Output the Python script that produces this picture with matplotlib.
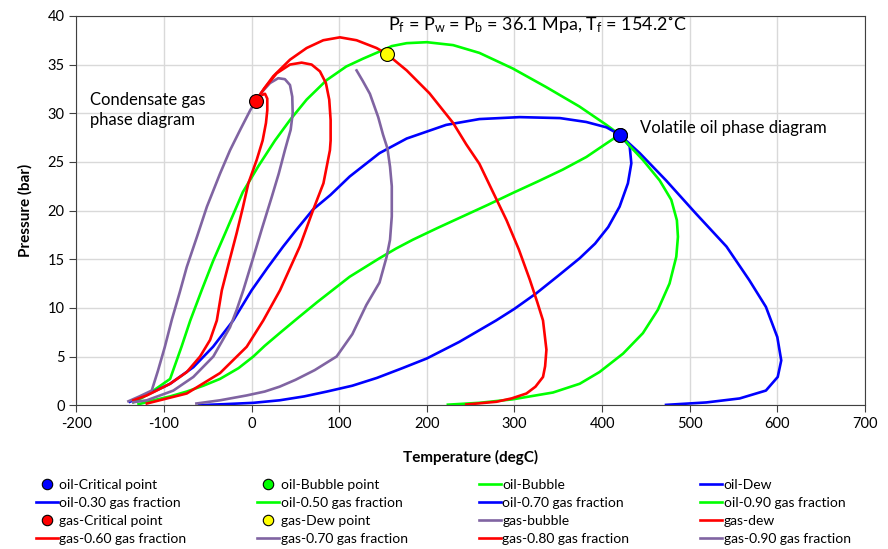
import matplotlib
matplotlib.use('Agg')
import matplotlib.pyplot as plt

plt.rcParams['font.family'] = ['Lato', 'DejaVu Sans']
plt.rcParams['mathtext.fontset'] = 'custom'
plt.rcParams['mathtext.rm'] = 'Lato'
plt.rcParams['mathtext.it'] = 'Lato:italic'
plt.rcParams['mathtext.default'] = 'regular'
plt.rcParams['axes.unicode_minus'] = False

# ---- data (temperature degC, pressure bar) ----
oil_crit = (420, 27.8)
gas_crit = (5, 31.3)
gas_dew_pt = (154.2, 36.1)

oil_bubble_T = [-135, -124, -112, -93, -80, -70, -57, -44, -30, -10, 8, 26.7, 43.8, 62.8, 85.6, 108,
                127, 145, 160, 177, 200, 230, 260, 298, 336, 374, 405, 420]
oil_bubble_P = [0.3, 0.8, 1.5, 2.7, 6.0, 8.7, 11.8, 14.8, 17.7, 21.9, 24.6, 27.2, 29.3, 31.4, 33.4, 34.8,
                35.6, 36.3, 36.9, 37.2, 37.3, 37.0, 36.2, 34.6, 32.7, 30.7, 28.8, 27.8]

oil_dew_T = [420, 443, 473, 507, 542, 568, 587, 600, 604.5, 600.5, 587, 557, 519, 473]
oil_dew_P = [27.8, 25.9, 23.1, 19.7, 16.3, 12.85, 10.1, 7.0, 4.6, 2.9, 1.5, 0.69, 0.28, 0.03]

oil_030_T = [420, 405, 382, 352, 306, 260, 222, 177, 146, 112, 90, 70, 50, 36, 18, 0, -21, -44, -66.5,
             -93, -116, -139]
oil_030_P = [27.8, 28.55, 29.1, 29.5, 29.6, 29.4, 28.8, 27.4, 25.9, 23.5, 21.6, 20.1, 17.9, 16.3, 14.1,
             11.8, 8.7, 6.0, 3.9, 2.2, 1.2, 0.35]

oil_050_T = [420, 405, 382, 355, 327, 298, 270, 241, 212, 184, 165, 146, 112, 75, 52, 32, 15, 2, -15,
             -36, -55, -74, -93, -112, -129]
oil_050_P = [27.8, 26.9, 25.5, 24.2, 23.0, 21.8, 20.6, 19.4, 18.2, 17.0, 16.1, 15.1, 13.2, 10.6, 8.9,
             7.4, 6.1, 5.0, 3.8, 2.7, 2.0, 1.4, 0.9, 0.5, 0.1]

oil_070_T = [420, 431.5, 433.4, 429.5, 420, 407, 392, 374.5, 350, 325, 300, 279, 258, 237, 200, 172,
             143, 115, 86, 60, 32, 2, -32, -60]
oil_070_P = [27.8, 26.6, 24.85, 22.8, 20.4, 18.3, 16.6, 15.1, 13.3, 11.5, 9.9, 8.7, 7.6, 6.5, 4.8, 3.8,
             2.8, 2.0, 1.4, 0.9, 0.5, 0.24, 0.1, 0.0]

oil_090_T = [420, 433, 446.6, 465.7, 479, 485.4, 486.6, 484.7, 477, 463.7, 446.6, 424, 397, 374.5, 344,
             298, 260, 224]
oil_090_P = [27.8, 26.5, 25.2, 23.1, 21.1, 19.0, 17.3, 15.25, 12.5, 9.8, 7.4, 5.3, 3.4, 2.2, 1.3, 0.6,
             0.24, 0.05]

gas_bubble_T = [5, -1.6, -13, -24.6, -36, -51, -62, -74, -82, -91, -99, -107, -114, -128, -140.6]
gas_bubble_P = [31.3, 30.3, 28.3, 26.2, 23.8, 20.4, 17.4, 14.2, 11.6, 8.8, 6.0, 3.5, 1.5, 0.9, 0.4]

gas_dew_T = [5, 14, 24.7, 43.8, 62.8, 81.8, 100.8, 119.8, 142.6, 154.2, 177, 203, 230, 245, 260, 276,
             291, 305, 317.5, 326, 332.6, 336.5, 335, 332.6, 324, 313.7, 297, 279.5, 245]
gas_dew_P = [31.3, 32.5, 33.8, 35.5, 36.7, 37.5, 37.8, 37.5, 36.7, 36.1, 34.4, 32.05, 29.0, 26.8, 24.8,
             21.8, 19.0, 16.0, 12.9, 10.6, 8.7, 5.7, 4.0, 2.9, 1.9, 1.2, 0.7, 0.35, 0.07]

gas_060_T = [5, 10, 15.3, 17.9, 17.9, 16.4, 12.6, 5.8, -3.7, -10, -17, -26, -34, -39.7, -47.4, -58.8,
             -74, -93, -119.6, -135]
gas_060_P = [31.3, 31.8, 32.0, 31.5, 30.3, 29.0, 27.2, 25.2, 22.8, 20.3, 17.7, 14.6, 11.8, 8.7, 6.7,
             5.0, 3.4, 2.2, 1.0, 0.5]

gas_070_T = [5, 12, 21, 30.4, 38, 43.8, 46.4, 46.9, 44.6, 41.1, 38, 31, 23, 12, 2, -9.5, -17, -24.7,
             -43.7, -66.5, -89.3, -119.6, -135]
gas_070_P = [31.3, 32.2, 33.1, 33.6, 33.5, 32.9, 31.7, 30.0, 28.3, 27.2, 26.2, 23.8, 21.4, 18.2, 15.2,
             11.8, 9.8, 8.0, 5.0, 2.9, 1.5, 0.5, 0.3]

gas_080_T = [5, 15, 28.6, 43.8, 57.1, 68.5, 78, 84.8, 88.6, 90.2, 90.2, 89.4, 82, 70.4, 55, 32.4, 13.3,
             -5.6, -36, -74, -119.6]
gas_080_P = [31.3, 32.6, 34.1, 35.0, 35.2, 35.0, 34.3, 33.1, 31.4, 29.3, 27.2, 26.2, 22.8, 20.1, 16.3,
             11.8, 8.7, 6.0, 3.3, 1.2, 0.17]

gas_090_T = [119.8, 127, 135, 144.5, 150, 155, 158, 160, 160, 158, 154, 146, 131, 115, 97, 72, 50, 32,
             15, -5.6, -36, -63]
gas_090_P = [34.4, 33.3, 32.0, 29.6, 27.8, 26.4, 24.5, 22.5, 19.4, 17.0, 15.2, 12.6, 10.3, 7.3, 5.0,
             3.6, 2.6, 1.9, 1.4, 1.0, 0.5, 0.17]

BLUE = '#0000FF'
GREEN = '#00FF00'
RED = '#FF0000'
PURPLE = '#8064A2'
YELLOW = '#FFFF00'

fig = plt.figure(figsize=(8.88, 5.49), dpi=100)
ax = fig.add_axes([0.086, 0.262, 0.888, 0.709])

lw = 1.9
ms = 10
mk = dict(mec='black', mew=0.8, ms=ms, ls='none')
ax.plot(*oil_crit, 'o', color=BLUE, zorder=6, label='oil-Critical point', **mk)
ax.plot(*oil_crit, 'o', color=GREEN, zorder=5, label='oil-Bubble point', **mk)
ax.plot(oil_bubble_T, oil_bubble_P, color=GREEN, lw=lw, label='oil-Bubble')
ax.plot(oil_dew_T, oil_dew_P, color=BLUE, lw=lw, label='oil-Dew')
ax.plot(oil_030_T, oil_030_P, color=BLUE, lw=lw, label='oil-0.30 gas fraction')
ax.plot(oil_050_T, oil_050_P, color=GREEN, lw=lw, label='oil-0.50 gas fraction')
ax.plot(oil_070_T, oil_070_P, color=BLUE, lw=lw, label='oil-0.70 gas fraction')
ax.plot(oil_090_T, oil_090_P, color=GREEN, lw=lw, label='oil-0.90 gas fraction')
ax.plot(*gas_crit, 'o', color=RED, zorder=6, label='gas-Critical point', **mk)
ax.plot(*gas_dew_pt, 'o', color=YELLOW, zorder=6, label='gas-Dew point', **mk)
ax.plot(gas_bubble_T, gas_bubble_P, color=PURPLE, lw=lw, label='gas-bubble')
ax.plot(gas_dew_T, gas_dew_P, color=RED, lw=lw, label='gas-dew')
ax.plot(gas_060_T, gas_060_P, color=RED, lw=lw, label='gas-0.60 gas fraction')
ax.plot(gas_070_T, gas_070_P, color=PURPLE, lw=lw, label='gas-0.70 gas fraction')
ax.plot(gas_080_T, gas_080_P, color=RED, lw=lw, label='gas-0.80 gas fraction')
ax.plot(gas_090_T, gas_090_P, color=PURPLE, lw=lw, label='gas-0.90 gas fraction')

ax.set_xlim(-200, 700)
ax.set_ylim(0, 40)
ax.set_xticks(range(-200, 701, 100))
ax.set_yticks(range(0, 41, 5))
ax.grid(color='#d9d9d9', lw=1)
ax.set_axisbelow(True)
ax.tick_params(direction='out', length=5, labelsize=10.5, color='#404040')
for s in ax.spines.values():
    s.set_color('#404040')
ax.set_xlabel('Temperature (degC)', fontsize=11, fontweight='bold', labelpad=14)
ax.set_ylabel('Pressure (bar)', fontsize=11, fontweight='bold', labelpad=11)

ax.text(155.5, 39.1, r'P$_{f}$ = P$_{w}$ = P$_{b}$ = 36.1 Mpa, T$_{f}$ = 154.2˚C',
        fontsize=12.9, ha='left', va='center')
ax.text(-185, 30.3, 'Condensate gas\nphase diagram', fontsize=12, ha='left', va='center',
        linespacing=1.3)
ax.text(443, 28.5, 'Volatile oil phase diagram', fontsize=12, ha='left', va='center')

# legend filled row by row (matplotlib fills by column)
handles, labels = ax.get_legend_handles_labels()
order = [r * 4 + c for c in range(4) for r in range(4)]
fig.legend([handles[i] for i in order], [labels[i] for i in order], ncol=4,
           loc='upper left', bbox_to_anchor=(0.04, 0.127), frameon=False,
           fontsize=10, handlelength=1.6, handletextpad=0.1, columnspacing=5.1,
           labelspacing=0.42, borderpad=0, borderaxespad=0, markerscale=0.75)

fig.savefig('out.png', dpi=100)
